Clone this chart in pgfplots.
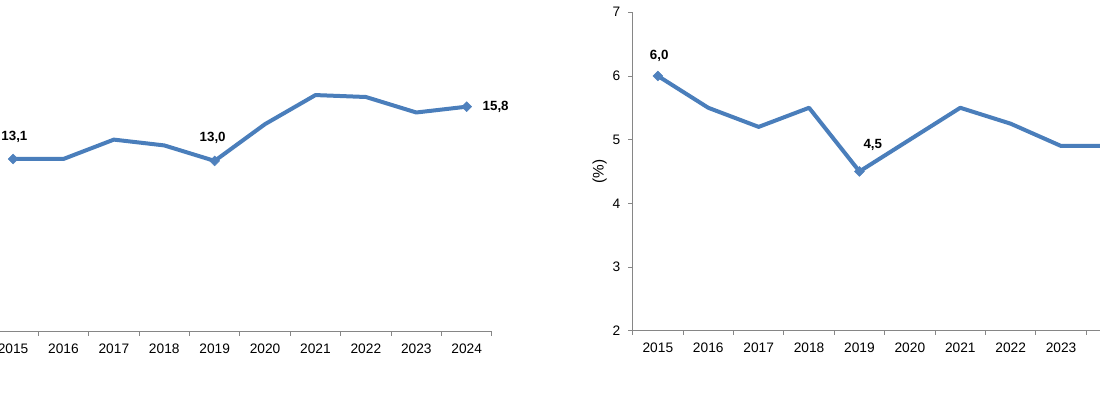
\documentclass[border=0pt]{standalone}
\usepackage{fontspec}
\setmainfont{Liberation Sans}
\usepackage{pgfplots}
\pgfplotsset{compat=1.18}
\definecolor{lineblue}{RGB}{74,126,187}
\definecolor{markblue}{RGB}{79,129,189}
\definecolor{axgray}{RGB}{134,134,134}
\pgfplotsset{
  mybase/.style={
    scale only axis,
    width=378pt, height=238.8pt,
    anchor=south west,
    xmin=-0.5, xmax=9.5,
    axis x line*=bottom,
    axis y line*=left,
    axis line style={axgray, line width=0.6pt},
    every tick/.style={axgray, line width=0.6pt},
    tick align=outside,
    xtick={0,...,9},
    major x tick style={draw=none},
    minor xtick={-0.5,0.5,...,9.5},
    minor tick length=3.2pt,
    major tick length=3.2pt,
    xticklabel style={font=\fontsize{10.3}{12}\selectfont, yshift=-2.5pt},
    yticklabel style={font=\fontsize{10.3}{12}\selectfont, xshift=-2.5pt},
    /pgf/number format/assume math mode=true,
    clip=false,
  },
  lbl/.style={nodes near coords={\textbf{#1}}, nodes near coords style={font=\fontsize{10}{12}\selectfont, anchor=center}},
  mk/.style={only marks, mark=square*, mark size=2.6pt, mark options={rotate=45, fill=markblue, draw=markblue}},
}
\begin{document}
\begin{tikzpicture}
\path[use as bounding box, clip] (0,0) rectangle (825pt,297pt);
% left chart
\begin{axis}[mybase, at={(-9.1pt,48.2pt)}, ymin=4.18, ymax=20.62, ytick=\empty,
  xticklabels={2015,2016,2017,2018,2019,2020,2021,2022,2023,2024}]
\addplot[lineblue, line width=3pt, line join=round] coordinates {
(0,13.1) (1,13.1) (2,14.1) (3,13.8) (4,13.0) (5,14.9) (6,16.4) (7,16.3) (8,15.5) (9,15.8)};
\addplot[mk, lbl={13,1}, nodes near coords style={yshift=16.5pt, xshift=1pt}] coordinates {(0,13.1)};
\addplot[mk, lbl={13,0}, nodes near coords style={yshift=17pt, xshift=-1.5pt}] coordinates {(4,13.0)};
\addplot[mk, lbl={15,8}, nodes near coords style={xshift=21.75pt}] coordinates {(9,15.8)};
\end{axis}
% right chart
\begin{axis}[mybase, at={(474.5pt,49pt)}, ymin=2, ymax=7, ytick={2,...,7},
  xticklabels={2015,2016,2017,2018,2019,2020,2021,2022,2023,{}},
  ylabel={(\%)}, ylabel style={font=\fontsize{11.5}{13}\selectfont, at={(axis description cs:-0.0655,0.5)}, anchor=center}]
\addplot[lineblue, line width=3pt, line join=round] coordinates {
(0,6.0) (1,5.5) (2,5.2) (3,5.5) (4,4.5) (5,5.0) (6,5.5) (7,5.25) (8,4.9) (9,4.9)};
\addplot[mk, lbl={6,0}, nodes near coords style={yshift=15pt, xshift=1pt}] coordinates {(0,6.0)};
\addplot[mk, lbl={4,5}, nodes near coords style={yshift=20pt, xshift=10pt}] coordinates {(4,4.5)};
\end{axis}
\end{tikzpicture}
\end{document}
